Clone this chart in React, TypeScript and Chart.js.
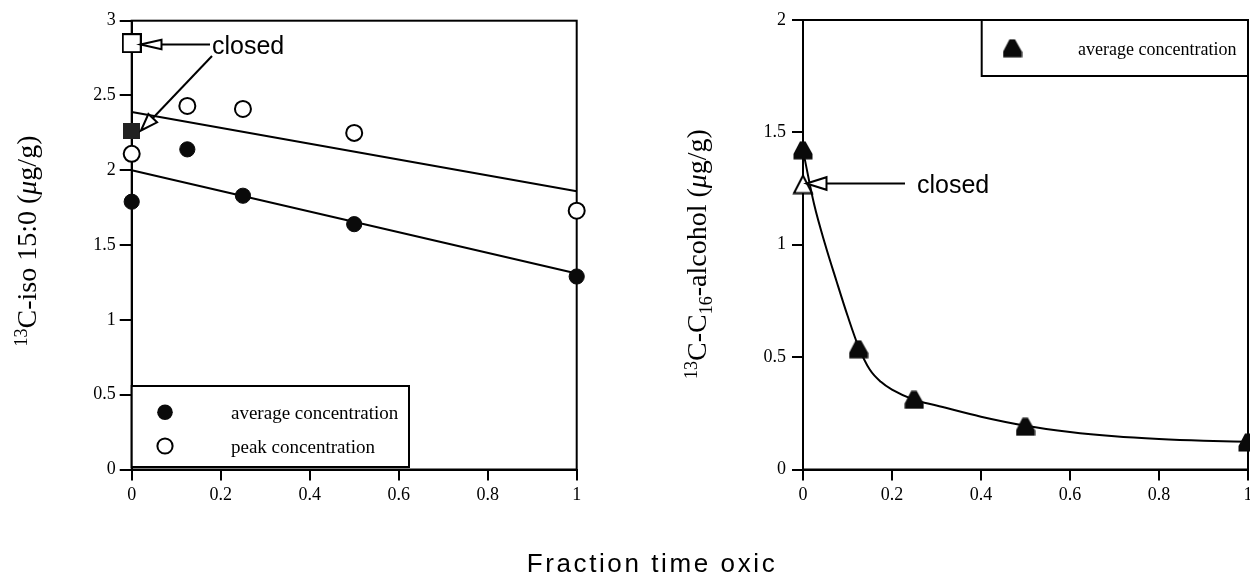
import React, { useEffect, useRef } from 'react';
import { Chart, registerables } from 'chart.js';
Chart.register(...registerables);

// ---------- data ----------
const fractionOxic = [0, 0.125, 0.25, 0.5, 1];
const isoAverage = [1.79, 2.14, 1.83, 1.64, 1.29];
const isoPeak = [2.11, 2.43, 2.41, 2.25, 1.73];
const isoClosedAverage = 2.26;
const isoClosedPeak = 2.85;
const isoFitX = [0, 1];
const isoAverageFit = [2.0, 1.31];
const isoPeakFit = [2.39, 1.86];

const alcoholAverage = [1.42, 0.535, 0.31, 0.19, 0.12];
const alcoholClosed = 1.27;
const alcoholCurveX = [0, 0.025, 0.05, 0.075, 0.1, 0.125, 0.15, 0.175, 0.2, 0.25, 0.3, 0.4, 0.5, 0.6, 0.7, 0.8, 0.9, 1];
const alcoholCurveY = [1.42, 1.18, 1.0, 0.84, 0.685, 0.545, 0.445, 0.39, 0.355, 0.31, 0.285, 0.235, 0.195, 0.167, 0.148, 0.136, 0.128, 0.123];

const xTicks = [0, 0.2, 0.4, 0.6, 0.8, 1];
const xTickLabels = ['0', '0.2', '0.4', '0.6', '0.8', '1'];
const isoYTicks = [0, 0.5, 1, 1.5, 2, 2.5, 3];
const isoYTickLabels = ['0', '0.5', '1', '1.5', '2', '2.5', '3'];
const alcoholYTicks = [0, 0.5, 1, 1.5, 2];
const alcoholYTickLabels = ['0', '0.5', '1', '1.5', '2'];

const legendIso = ['average concentration', 'peak concentration'];
const legendAlcohol = ['average concentration'];
const xTitle = 'Fraction time oxic';
const annotationText = 'closed';

const SERIF = '"Liberation Serif", "Times New Roman", serif';
const SANS = '"Liberation Sans", Arial, sans-serif';
const INK = '#0a0a0a';

// ---------- marker images ----------
function makeCanvas(w: number, h: number, draw: (c: CanvasRenderingContext2D) => void) {
  const cv = document.createElement('canvas');
  cv.width = w;
  cv.height = h;
  const c = cv.getContext('2d') as CanvasRenderingContext2D;
  draw(c);
  return cv;
}
function filledTriangle() {
  return makeCanvas(20, 19, (c) => {
    const W = 19.5, H = 18.5;
    c.beginPath();
    c.moveTo(0.5, H);
    c.lineTo(0.5, H * 0.7);
    c.lineTo(W * 0.36, 0.5);
    c.lineTo(W * 0.64, 0.5);
    c.lineTo(W, H * 0.7);
    c.lineTo(W, H);
    c.closePath();
    c.fillStyle = INK;
    c.fill();
  });
}
function openTriangle() {
  return makeCanvas(22, 21, (c) => {
    c.beginPath();
    c.moveTo(2, 19.5);
    c.lineTo(11, 2);
    c.lineTo(20, 19.5);
    c.closePath();
    c.fillStyle = '#fff';
    c.fill();
    c.lineWidth = 2;
    c.strokeStyle = '#000';
    c.stroke();
  });
}
function openSquare() {
  return makeCanvas(20, 20, (c) => {
    c.fillStyle = '#fff';
    c.fillRect(1, 1, 18, 18);
    c.lineWidth = 2;
    c.strokeStyle = '#000';
    c.strokeRect(1, 1, 18, 18);
  });
}
function filledSquare() {
  return makeCanvas(17, 16, (c) => {
    c.fillStyle = '#222';
    c.fillRect(0, 0, 17, 16);
  });
}

// ---------- drawing helpers ----------
type Part = { t: string; sup?: boolean; sub?: boolean; italic?: boolean };
function drawRotatedRich(ctx: CanvasRenderingContext2D, parts: Part[], cx: number, baseX: number, size: number) {
  const small = Math.round(size * 0.64);
  const fontFor = (p: Part) =>
    `${p.italic ? 'italic ' : ''}${p.sup || p.sub ? small : size}px ${SERIF}`;
  let total = 0;
  const widths = parts.map((p) => {
    ctx.font = fontFor(p);
    const w = ctx.measureText(p.t).width;
    total += w;
    return w;
  });
  ctx.save();
  ctx.translate(baseX, cx);
  ctx.rotate(-Math.PI / 2);
  ctx.fillStyle = '#000';
  ctx.textBaseline = 'alphabetic';
  ctx.textAlign = 'left';
  let x = -total / 2;
  parts.forEach((p, i) => {
    ctx.font = fontFor(p);
    const dy = p.sup ? -size * 0.33 : p.sub ? size * 0.2 : 0;
    ctx.fillText(p.t, x, dy);
    x += widths[i];
  });
  ctx.restore();
}
function drawArrow(ctx: CanvasRenderingContext2D, x1: number, y1: number, x2: number, y2: number, headLen: number, headHalf: number) {
  const ang = Math.atan2(y2 - y1, x2 - x1);
  const bx = x2 - headLen * Math.cos(ang);
  const by = y2 - headLen * Math.sin(ang);
  ctx.save();
  ctx.strokeStyle = '#000';
  ctx.lineWidth = 2;
  ctx.beginPath();
  ctx.moveTo(x1, y1);
  ctx.lineTo(bx, by);
  ctx.stroke();
  const px = -Math.sin(ang) * headHalf;
  const py = Math.cos(ang) * headHalf;
  ctx.beginPath();
  ctx.moveTo(x2, y2);
  ctx.lineTo(bx + px, by + py);
  ctx.lineTo(bx - px, by - py);
  ctx.closePath();
  ctx.fillStyle = '#fff';
  ctx.fill();
  ctx.stroke();
  ctx.restore();
}

const framePlugin = {
  id: 'frame',
  beforeDatasetsDraw(chart: any) {
    const { ctx, chartArea } = chart;
    ctx.save();
    ctx.strokeStyle = '#000';
    ctx.lineWidth = 2;
    ctx.strokeRect(chartArea.left, chartArea.top, chartArea.right - chartArea.left, chartArea.bottom - chartArea.top);
    ctx.restore();
  },
};

function scales(opts: {
  yTicks: number[];
  yLabels: string[];
  yMax: number;
  yWidth: number;
  xHeight: number;
  yTickLen: number;
  yPad: number;
}) {
  return {
    x: {
      type: 'linear',
      min: 0,
      max: 1,
      afterBuildTicks: (s: any) => {
        s.ticks = xTicks.map((v) => ({ value: v }));
      },
      afterFit: (s: any) => {
        s.height = opts.xHeight;
      },
      ticks: {
        callback: (v: number) => xTickLabels[xTicks.indexOf(v)] ?? String(v),
        font: { family: SERIF, size: 18 },
        color: '#000',
        padding: 4,
        maxRotation: 0,
        autoSkip: false,
      },
      grid: { drawOnChartArea: false, drawTicks: true, tickLength: 11, color: '#000', lineWidth: 2 },
      border: { display: true, color: '#000', width: 2 },
    },
    y: {
      type: 'linear',
      min: 0,
      max: opts.yMax,
      afterBuildTicks: (s: any) => {
        s.ticks = opts.yTicks.map((v) => ({ value: v }));
      },
      afterFit: (s: any) => {
        s.width = opts.yWidth;
      },
      ticks: {
        callback: (v: number) => opts.yLabels[opts.yTicks.indexOf(v)] ?? String(v),
        font: { family: SERIF, size: 18 },
        color: '#000',
        padding: opts.yPad,
        autoSkip: false,
      },
      grid: { drawOnChartArea: false, drawTicks: true, tickLength: opts.yTickLen, color: '#000', lineWidth: 2 },
      border: { display: true, color: '#000', width: 2 },
    },
  };
}

const LEFT_OX = 0;
const RIGHT_OX = 640;

function buildIsoChart(canvas: HTMLCanvasElement) {
  const ox = LEFT_OX;
  const pts = (ys: number[]) => fractionOxic.map((x, i) => ({ x, y: ys[i] }));
  const annot = {
    id: 'isoAnnot',
    afterDatasetsDraw(chart: any) {
      const { ctx } = chart;
      drawRotatedRich(
        ctx,
        [{ t: '13', sup: true }, { t: 'C-iso 15:0 (' }, { t: 'μ', italic: true }, { t: 'g/g)' }],
        241,
        36 - ox,
        28
      );
      ctx.save();
      ctx.font = `25px ${SANS}`;
      ctx.fillStyle = '#000';
      ctx.textBaseline = 'alphabetic';
      ctx.fillText(annotationText, 212 - ox, 53.5);
      ctx.restore();
      drawArrow(ctx, 210 - ox, 44.5, 140.5 - ox, 44.5, 21, 4.8);
      drawArrow(ctx, 212 - ox, 56, 141 - ox, 130.5, 17, 6);
      const L = 131.7 - ox, T = 386, R = 409 - ox, B = 467;
      ctx.save();
      ctx.fillStyle = '#fff';
      ctx.fillRect(L, T, R - L, B - T);
      ctx.strokeStyle = '#000';
      ctx.lineWidth = 2;
      ctx.strokeRect(L, T, R - L, B - T);
      ctx.beginPath();
      ctx.arc(165 - ox, 412.3, 7.8, 0, Math.PI * 2);
      ctx.fillStyle = INK;
      ctx.fill();
      ctx.beginPath();
      ctx.arc(165 - ox, 446, 7.6, 0, Math.PI * 2);
      ctx.fillStyle = '#fff';
      ctx.fill();
      ctx.stroke();
      ctx.fillStyle = '#000';
      ctx.font = `19px ${SERIF}`;
      ctx.textBaseline = 'alphabetic';
      ctx.fillText(legendIso[0], 231 - ox, 419);
      ctx.fillText(legendIso[1], 231 - ox, 452.5);
      ctx.restore();
    },
  };
  return new Chart(canvas, {
    type: 'scatter',
    data: {
      datasets: [
        {
          label: 'closed peak',
          data: [{ x: 0, y: isoClosedPeak }],
          pointStyle: openSquare() as any,
          pointRadius: 10,
          clip: false,
        } as any,
        {
          label: 'closed average',
          data: [{ x: 0, y: isoClosedAverage }],
          pointStyle: filledSquare() as any,
          pointRadius: 9,
          clip: false,
        },
        {
          label: legendIso[0],
          data: pts(isoAverage),
          pointStyle: 'circle',
          pointRadius: 7.6,
          backgroundColor: INK,
          borderColor: INK,
          borderWidth: 1,
          clip: false,
        },
        {
          label: legendIso[1],
          data: pts(isoPeak),
          pointStyle: 'circle',
          pointRadius: 8,
          backgroundColor: '#fff',
          borderColor: '#000',
          borderWidth: 2,
          clip: false,
        },
        {
          label: 'average fit',
          data: isoFitX.map((x, i) => ({ x, y: isoAverageFit[i] })),
          showLine: true,
          pointRadius: 0,
          borderColor: '#000',
          borderWidth: 2,
        },
        {
          label: 'peak fit',
          data: isoFitX.map((x, i) => ({ x, y: isoPeakFit[i] })),
          showLine: true,
          pointRadius: 0,
          borderColor: '#000',
          borderWidth: 2,
        },
      ],
    },
    options: {
      responsive: false,
      animation: false,
      events: [],
      layout: { padding: { top: 20.7, right: 640 - 576.7, bottom: 0, left: 0 } },
      plugins: { legend: { display: false }, tooltip: { enabled: false } },
      scales: scales({
        yTicks: isoYTicks,
        yLabels: isoYTickLabels,
        yMax: 3,
        yWidth: 131.7,
        xHeight: 582 - 469.5,
        yTickLen: 12,
        yPad: 4,
      }) as any,
    },
    plugins: [framePlugin, annot],
  });
}

function buildAlcoholChart(canvas: HTMLCanvasElement) {
  const ox = RIGHT_OX;
  const annot = {
    id: 'alcAnnot',
    afterDatasetsDraw(chart: any) {
      const { ctx } = chart;
      drawRotatedRich(
        ctx,
        [
          { t: '13', sup: true },
          { t: 'C-C' },
          { t: '16', sub: true },
          { t: '-alcohol (' },
          { t: 'μ', italic: true },
          { t: 'g/g)' },
        ],
        254,
        706 - ox,
        28
      );
      ctx.save();
      ctx.font = `25px ${SANS}`;
      ctx.fillStyle = '#000';
      ctx.textBaseline = 'alphabetic';
      ctx.fillText(annotationText, 917 - ox, 192.5);
      ctx.restore();
      drawArrow(ctx, 905 - ox, 183.5, 806.5 - ox, 183.5, 20, 6.3);
      const L = 981.7 - ox, T = 20, R = 1248 - ox, B = 76;
      ctx.save();
      ctx.fillStyle = '#fff';
      ctx.fillRect(L, T, R - L, B - T);
      ctx.strokeStyle = '#000';
      ctx.lineWidth = 2;
      ctx.strokeRect(L, T, R - L, B - T);
      const tri = filledTriangle();
      ctx.drawImage(tri, 1012.5 - ox - tri.width / 2, 48.3 - tri.height / 2);
      ctx.fillStyle = '#000';
      ctx.font = `18px ${SERIF}`;
      ctx.textBaseline = 'alphabetic';
      ctx.fillText(legendAlcohol[0], 1078 - ox, 55);
      ctx.restore();
    },
  };
  return new Chart(canvas, {
    type: 'scatter',
    data: {
      datasets: [
        {
          label: legendAlcohol[0],
          data: fractionOxic.map((x, i) => ({ x, y: alcoholAverage[i] })),
          pointStyle: filledTriangle() as any,
          pointRadius: 10,
          clip: false,
        } as any,
        {
          label: 'closed',
          data: [{ x: 0, y: alcoholClosed }],
          pointStyle: openTriangle() as any,
          pointRadius: 10,
          clip: false,
        },
        {
          label: 'fit',
          data: alcoholCurveX.map((x, i) => ({ x, y: alcoholCurveY[i] })),
          showLine: true,
          pointRadius: 0,
          borderColor: '#000',
          borderWidth: 2,
          cubicInterpolationMode: 'monotone',
        },
      ],
    },
    options: {
      responsive: false,
      animation: false,
      events: [],
      layout: { padding: { top: 20, right: 630 - (1248 - ox), bottom: 0, left: 0 } },
      plugins: { legend: { display: false }, tooltip: { enabled: false } },
      scales: scales({
        yTicks: alcoholYTicks,
        yLabels: alcoholYTickLabels,
        yMax: 2,
        yWidth: 803 - ox,
        xHeight: 582 - 469.5,
        yTickLen: 11,
        yPad: 6,
      }) as any,
    },
    plugins: [framePlugin, annot],
  });
}

export default function App() {
  const leftRef = useRef<HTMLCanvasElement>(null);
  const rightRef = useRef<HTMLCanvasElement>(null);
  useEffect(() => {
    const a = buildIsoChart(leftRef.current as HTMLCanvasElement);
    const b = buildAlcoholChart(rightRef.current as HTMLCanvasElement);
    return () => {
      a.destroy();
      b.destroy();
    };
  }, []);
  return (
    <div style={{ position: 'fixed', left: 0, top: 0, width: 1250, height: 582, overflow: 'hidden', background: '#fff' }}>
      <canvas ref={leftRef} width={640} height={582} style={{ position: 'absolute', left: LEFT_OX, top: 0 }} />
      <canvas ref={rightRef} width={630} height={582} style={{ position: 'absolute', left: RIGHT_OX, top: 0 }} />
      <div
        style={{
          position: 'absolute',
          left: 652,
          top: 548,
          transform: 'translateX(-50%)',
          fontFamily: SANS,
          fontSize: 26,
          lineHeight: '30px',
          letterSpacing: '2.6px',
          whiteSpace: 'nowrap',
          color: '#000',
        }}
      >
        {xTitle}
      </div>
    </div>
  );
}
